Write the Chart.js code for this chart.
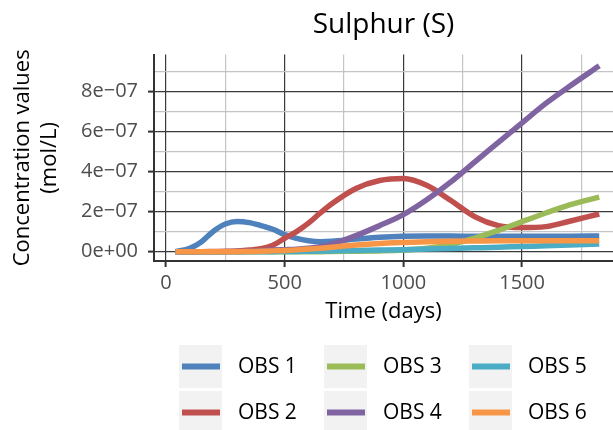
<!DOCTYPE html>
<html>
<head>
<meta charset="utf-8">
<script src="https://cdn.jsdelivr.net/npm/chart.js@4"></script>
<style>
  body { margin: 0; background: #fff; }
  canvas { display: block; }
</style>
</head>
<body>
<canvas id="chart" width="613" height="430"></canvas>
<script>
// time axis (days)
const days = [40, 100, 150, 200, 250, 300, 350, 400, 450, 500, 550, 600, 650, 700, 800, 900, 1000, 1100, 1200, 1300, 1400, 1500, 1600, 1700, 1825];

// concentrations in units of 1e-7 mol/L
const obs1 = [0, 0.17, 0.5, 1.02, 1.38, 1.5, 1.45, 1.3, 1.12, 0.85, 0.66, 0.55, 0.5, 0.52, 0.63, 0.72, 0.77, 0.78, 0.78, 0.77, 0.77, 0.77, 0.77, 0.77, 0.78];
const obs2 = [0, 0, 0, 0.01, 0.02, 0.04, 0.08, 0.15, 0.32, 0.67, 1.0, 1.42, 1.93, 2.4, 3.15, 3.55, 3.65, 3.3, 2.55, 1.75, 1.3, 1.2, 1.25, 1.52, 1.88];
const obs3 = [0, 0, 0, 0, 0, 0, 0, 0, 0, 0, 0, 0, 0, 0.01, 0.02, 0.04, 0.08, 0.17, 0.36, 0.68, 1.06, 1.5, 1.93, 2.33, 2.72];
const obs4 = [0, 0, 0, 0, 0, 0.01, 0.02, 0.05, 0.08, 0.1, 0.12, 0.17, 0.25, 0.38, 0.8, 1.3, 1.85, 2.6, 3.48, 4.47, 5.45, 6.43, 7.4, 8.25, 9.27];
const obs5 = [0, 0, 0, 0, 0, 0, 0, 0, 0, 0.01, 0.01, 0.02, 0.03, 0.04, 0.06, 0.08, 0.1, 0.13, 0.16, 0.19, 0.22, 0.26, 0.29, 0.33, 0.38];
const obs6 = [0, 0, 0, 0, 0, 0, 0.01, 0.02, 0.04, 0.06, 0.09, 0.13, 0.17, 0.22, 0.33, 0.41, 0.46, 0.5, 0.52, 0.53, 0.54, 0.54, 0.55, 0.55, 0.55];

const seriesNames = ['OBS 1', 'OBS 2', 'OBS 3', 'OBS 4', 'OBS 5', 'OBS 6'];
const seriesValues = [obs1, obs2, obs3, obs4, obs5, obs6];
const seriesColors = ['#4F81BD', '#C0504D', '#9BBB59', '#8064A2', '#4BACC6', '#F79646'];

const FONT = "'Open Sans', sans-serif";
Chart.defaults.font.family = FONT;

const datasets = seriesNames.map((name, i) => ({
  label: name,
  data: days.map((d, j) => ({ x: d, y: seriesValues[i][j] * 1e-7 })),
  borderColor: seriesColors[i],
  backgroundColor: seriesColors[i],
  borderWidth: 5.5,
  pointRadius: 0,
  cubicInterpolationMode: 'monotone',
  borderCapStyle: 'butt',
  order: -i // later series drawn on top, like ggplot
}));

// ggplot-like legend with grey key boxes, two rows
const keyLegend = {
  id: 'keyLegend',
  afterDraw(chart) {
    const ctx = chart.ctx;
    ctx.save();
    seriesNames.forEach((name, i) => {
      const col = Math.floor(i / 2), row = i % 2;
      const x = 179 + col * 145, y = 345 + row * 46;
      ctx.fillStyle = '#f2f2f2';
      ctx.fillRect(x, y, 43, 43);
      ctx.strokeStyle = seriesColors[i];
      ctx.lineWidth = 6;
      ctx.beginPath();
      ctx.moveTo(x + 3, y + 21.5);
      ctx.lineTo(x + 41, y + 21.5);
      ctx.stroke();
      ctx.fillStyle = '#000';
      ctx.font = '21px ' + FONT;
      ctx.textBaseline = 'middle';
      ctx.fillText(name, x + 59, y + 22);
    });
    ctx.restore();
  }
};

const majorX = v => Math.round(v) % 500 === 0;
const majorY = v => Math.round(v * 1e7) % 2 === 0;

new Chart(document.getElementById('chart').getContext('2d'), {
  type: 'line',
  data: { datasets },
  plugins: [keyLegend],
  options: {
    responsive: false,
    animation: false,
    layout: { padding: { left: 0, right: 0, top: 0, bottom: 95 } },
    plugins: {
      legend: { display: false },
      tooltip: { enabled: false },
      title: {
        display: true,
        fullSize: false,
        text: 'Sulphur (S)',
        color: '#000',
        font: { size: 28, weight: 'normal', lineHeight: 1.2 },
        padding: { top: 8, bottom: 13 }
      }
    },
    scales: {
      x: {
        type: 'linear',
        min: -50.5,
        max: 1883,
        afterFit: s => { s.height = 74; },
        border: { color: '#333', width: 2 },
        grid: {
          color: c => majorX(c.tick.value) ? '#3a3a3a' : '#c4c4c4',
          lineWidth: 1.2,
          tickLength: 6,
          tickWidth: 2,
          tickColor: c => majorX(c.tick.value) ? '#333' : 'rgba(0,0,0,0)'
        },
        ticks: {
          stepSize: 250,
          includeBounds: false,
          autoSkip: false,
          maxRotation: 0,
          padding: 4,
          color: '#4d4d4d',
          font: { size: 20, lineHeight: 1.2 },
          callback: v => majorX(v) ? String(Math.round(v)) : ''
        },
        title: {
          display: true,
          text: 'Time (days)',
          color: '#000',
          font: { size: 22, lineHeight: 1.2 },
          padding: { top: 0, bottom: 10 }
        }
      },
      y: {
        min: -0.465e-7,
        max: 9.83e-7,
        afterFit: s => { s.width = 154; },
        border: { color: '#333', width: 2 },
        grid: {
          color: c => majorY(c.tick.value) ? '#3a3a3a' : '#c4c4c4',
          lineWidth: 1.2,
          tickLength: 6,
          tickWidth: 2,
          tickColor: c => majorY(c.tick.value) ? '#333' : 'rgba(0,0,0,0)'
        },
        ticks: {
          stepSize: 1e-7,
          includeBounds: false,
          autoSkip: false,
          padding: 10,
          color: '#4d4d4d',
          font: { size: 20, lineHeight: 1.2 },
          callback: v => {
            const n = Math.round(v * 1e7);
            if (n % 2 !== 0) return '';
            return n === 0 ? '0e+00' : n + 'e\u221207';
          }
        },
        title: {
          display: true,
          text: ['Concentration values', '(mol/L)'],
          color: '#000',
          font: { size: 22, lineHeight: 1.2 },
          padding: { top: 10, bottom: 0 }
        }
      }
    }
  }
});
</script>
</body>
</html>
